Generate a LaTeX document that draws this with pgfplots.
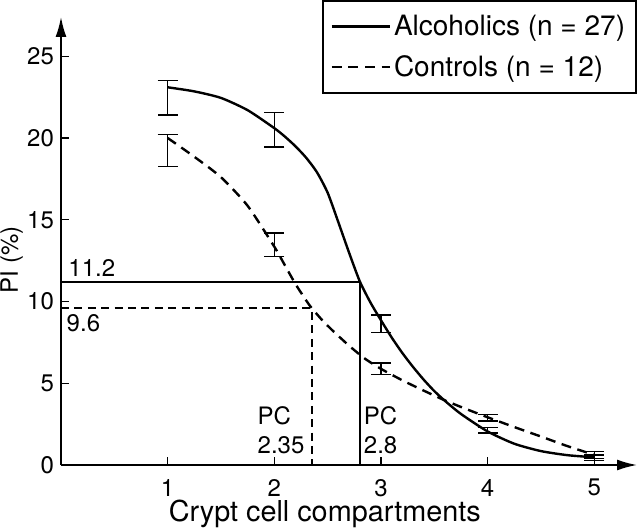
\documentclass[border=0pt]{standalone}
\usepackage{pgfplots}
\pgfplotsset{compat=1.18}
\usepackage{pgfplotstable}
\usepackage{fontspec}
\setmainfont{TeX Gyre Heros}
\usetikzlibrary{arrows.meta}

\pgfplotstableread{
x y
1.0 23.1
1.25 22.85
1.5 22.45
1.75 21.7
2.0 20.6
2.1 20.08
2.2 19.48
2.3 18.78
2.4 17.9
2.5 16.65
2.6 14.85
2.7 13.0
2.8 11.25
2.9 9.95
3.0 8.85
3.1 7.8
3.2 6.85
3.3 6.0
3.4 5.22
3.5 4.52
3.6 3.92
3.75 3.12
4.0 2.05
4.25 1.3
4.5 0.85
4.75 0.6
5.0 0.47
}\alcoholics

\pgfplotstableread{
x y
1.0 20.0
1.25 18.85
1.5 17.6
1.75 15.85
2.0 13.35
2.1 12.2
2.2 11.05
2.3 10.05
2.35 9.6
2.45 8.85
2.55 8.2
2.7 7.3
2.85 6.5
3.0 5.88
3.2 5.18
3.4 4.55
3.6 3.95
3.8 3.42
4.0 2.92
4.25 2.32
4.5 1.74
4.75 1.15
5.0 0.62
}\controls

\pgfplotstableread{
x y e
1 22.45 1.05
2 20.51 1.06
3 8.65 0.53
4 2.12 0.17
5 0.44 0.18
}\alcerr

\pgfplotstableread{
x y e
1 19.24 0.97
2 13.47 0.72
3 5.89 0.34
4 2.9 0.2
5 0.61 0.2
}\conerr

\begin{document}
\begin{tikzpicture}
\begin{axis}[
  scale only axis, width=288pt, height=224pt,
  xmin=0, xmax=5.4, ymin=0, ymax=27.4,
  axis x line=bottom, axis y line=left,
  axis line style={line width=0.9pt, -{Latex[length=10pt,width=5.5pt]}},
  xtick={1,2,3,4,5}, ytick={0,5,10,15,20,25},
  tick align=inside, major tick length=4pt,
  tick style={line width=0.6pt, black},
  tick label style={font=\fontsize{12}{14}\selectfont},
  /pgf/number format/assume math mode=true,
  xticklabel style={yshift=-3.5pt},
  xlabel={Crypt cell compartments}, ylabel={PI (\%)},
  xlabel style={at={(axis description cs:0.458,-0.1265)}, anchor=base, font=\fontsize{14.4}{16}\selectfont},
  ylabel style={at={(axis description cs:-0.0747,0.458)}, anchor=base, font=\fontsize{12}{14}\selectfont},
  legend style={at={(axis description cs:1,1.038)}, anchor=north east,
    draw=black, line width=0.9pt, inner xsep=4pt, inner ysep=5.5pt,
    row sep=5.5pt, nodes={inner sep=1.5pt}, font=\fontsize{14}{16}\selectfont},
  legend cell align=left,
  legend image code/.code={\draw[#1] (0pt,0pt) -- (22.5pt,0pt); \path (0pt,0pt) -- (29pt,0pt);},
  clip=false,
]
\coordinate (O) at (rel axis cs:0,0);
\addplot[black, line width=1.2pt, smooth, tension=0.4] table[x=x,y=y]{\alcoholics};
\addlegendentry{Alcoholics (n = 27)}
\addplot[black, line width=1.2pt, smooth, tension=0.4, dash pattern=on 5pt off 3.3pt] table[x=x,y=y]{\controls};
\addlegendentry{Controls (n = 12)}

\addplot[draw=none, mark=none, forget plot,
  error bars/.cd, y dir=both, y explicit,
  error bar style={line width=0.7pt, black, solid},
  error mark options={rotate=90, mark size=5pt, line width=0.7pt, black, solid}]
  table[x=x, y=y, y error=e]{\alcerr};
\addplot[draw=none, mark=none, forget plot,
  error bars/.cd, y dir=both, y explicit,
  error bar style={line width=0.7pt, black, solid},
  error mark options={rotate=90, mark size=5pt, line width=0.7pt, black, solid}]
  table[x=x, y=y, y error=e]{\conerr};

\addplot[black, line width=0.9pt, forget plot] coordinates {(0,11.2) (2.8,11.2) (2.8,0)};
\addplot[black, line width=0.9pt, forget plot, dash pattern=on 4pt off 2.7pt] coordinates {(0,9.6) (2.35,9.6) (2.35,0)};

\node[anchor=west, inner sep=0pt, font=\fontsize{12}{14}\selectfont] at (axis cs:0.066,12.03) {11.2};
\node[anchor=west, inner sep=0pt, font=\fontsize{12}{14}\selectfont] at (axis cs:0.05,8.7) {9.6};
\node[anchor=west, align=left, inner sep=0pt, font=\fontsize{12}{14.75}\selectfont] at (axis cs:1.84,2.14) {PC\\2.35};
\node[anchor=west, align=left, inner sep=0pt, font=\fontsize{12}{14.75}\selectfont] at (axis cs:2.836,2.14) {PC\\2.8};
\end{axis}
\pgfresetboundingbox
\path[use as bounding box] ([shift={(-30.5pt,-32.5pt)}]O) rectangle ([shift={(289.5pt,232.5pt)}]O);
\end{tikzpicture}
\end{document}
